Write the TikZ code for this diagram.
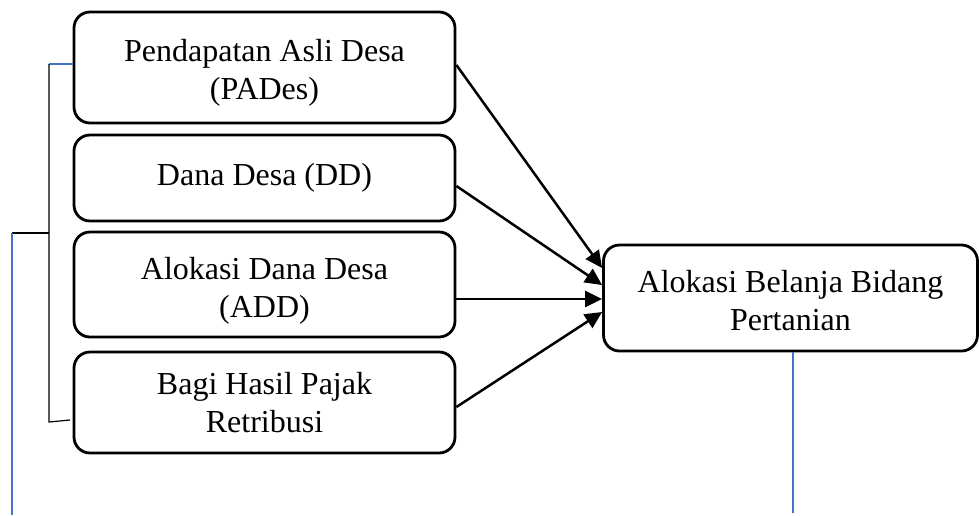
\documentclass[tikz,border=0pt]{standalone}
\usepackage{fontspec}
\setmainfont{Liberation Serif}
\usetikzlibrary{arrows.meta}
\usetikzlibrary{positioning}
\definecolor{garisbiru}{HTML}{4472C4}

\begin{document}
\begin{tikzpicture}[x=1pt,y=-1pt,
    kotak/.style={draw,line width=2.8pt,rounded corners=16pt,align=center,
      font=\fontsize{32}{38}\selectfont,inner sep=0pt},
    panah/.style={line width=2.5pt,-{Triangle[length=17pt,width=16pt]}},
    garis/.style={line width=1.2pt}]
  \useasboundingbox (0,0) rectangle (979,515);

  % kotak sumber dana
  \node[kotak,minimum width=381pt,minimum height=111pt] (pades) at (264.5,67.5) {\rule{0pt}{33pt}Pendapatan Asli Desa\\(PADes)};
  \node[kotak,minimum width=381pt,minimum height=86pt] (dd) at (264.5,178) {Dana Desa (DD)};
  \node[kotak,minimum width=381pt,minimum height=105pt] (add) at (264.5,284.5) {\rule{0pt}{35pt}Alokasi Dana Desa\\(ADD)};
  \node[kotak,minimum width=381pt,minimum height=101pt] (bhpr) at (264.5,402.5) {Bagi Hasil Pajak\\Retribusi};
  \node[kotak,minimum width=374pt,minimum height=106pt] (belanja) at (790.5,298) {\rule{0pt}{28pt}Alokasi Belanja Bidang\\Pertanian};

  % panah
  \draw[panah] ([yshift=2.5pt]pades.east) -- ([yshift=30pt]belanja.west);
  \draw[panah] ([yshift=-8pt]dd.east) -- ([yshift=13pt]belanja.west);
  \draw[panah] ([yshift=-14.5pt]add.east) -- ([yshift=-1pt]belanja.west);
  \draw[panah] ([yshift=-4.5pt]bhpr.east) -- ([yshift=-14pt]belanja.west);

  % kurung kiri
  \coordinate (kt) at (49,64);
  \coordinate (km) at (49,233);
  \coordinate (kb) at (49,422);
  \coordinate (kl) at (12,233);
  \coordinate (ke) at (70,420);
  \coordinate (kbawah) at (12,515);
  \coordinate (rb) at (793,513);
  \draw[garis,garisbiru] (kt) -- (pades.west |- kt);
  \draw[garis] (kt) -- (kb) -- (ke);
  \draw[garis] (km) -- (kl);
  \draw[garis,garisbiru] (kl) -- (kbawah);
  \draw[garis,garisbiru] (belanja.south -| rb) -- (rb);
\end{tikzpicture}
\end{document}
